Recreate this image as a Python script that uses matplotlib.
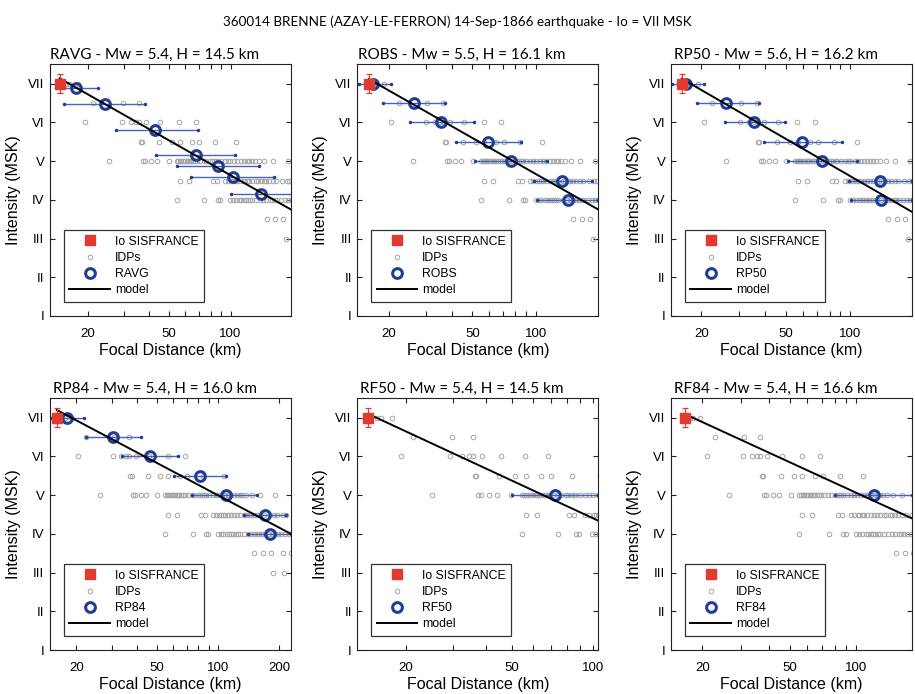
import numpy as np
import matplotlib
matplotlib.use("Agg")
import matplotlib.pyplot as plt
from matplotlib.ticker import FixedLocator, FixedFormatter, NullFormatter

plt.rcParams["font.family"] = ["Liberation Sans", "DejaVu Sans"]

suptitle = "360014 BRENNE (AZAY-LE-FERRON) 14-Sep-1866 earthquake - Io = VII MSK"

# one panel per method
methods = ["RAVG", "ROBS", "RP50", "RP84", "RF50", "RF84"]
mw = [5.4, 5.5, 5.6, 5.4, 5.4, 5.4]
depth = [14.5, 16.1, 16.2, 16.0, 14.5, 16.6]
xmin = [13.0, 14.2, 14.4, 14.8, 13.2, 14.4]
xmax = [198, 198, 195, 229, 105, 179]

# model line: intensity at the hypocentre distance and at the right edge
model_i_start = [7.14, 7.12, 7.13, 7.20, 7.10, 7.10]
model_i_end = [3.75, 3.75, 3.69, 4.00, 4.34, 4.40]

# Io SISFRANCE
io_value = 7.0
io_err = 0.25

# IDPs: epicentral distance (km) for each intensity class
idp_levels = [7.0, 6.5, 6.0, 5.5, 5.0, 4.5, 4.0, 3.5, 3.0]
idp_repi = [
    [5.8, 7.2, 10.3],
    [15.5, 26.0, 32.6],
    [12.7, 25.6, 29.2, 31.3, 32.5, 35.8, 42.9, 54.1, 66.5],
    [33.3, 33.8, 42.3, 49.4, 54.3, 62.7, 68.5, 82.3, 106],
    [20.6, 34.4, 35.4, 38.2, 41.3, 47.5, 52.6, 53.6, 54.6, 55.6, 56.7, 57.8,
     59.3, 60.3, 61.3, 62.3, 63.9, 65.4, 67, 69.3, 72.9, 74.6, 78.2, 79.7,
     81.7, 83.8, 85.5, 88.8, 92.9, 95.9, 98.9, 103.5, 107, 111, 115, 119,
     123, 127, 131, 137, 146, 161, 191],
    [54.4, 60.5, 80.5, 84.3, 92.9, 95.9, 100, 102, 105, 107, 111, 115, 119,
     123, 127, 133, 136, 141, 145, 149, 154, 161, 167, 179, 189, 194, 208, 215],
    [52.6, 73.1, 85.8, 87.8, 98.4, 102, 105, 109, 112, 115, 118, 121, 124,
     127, 133, 139, 144, 149, 155, 159, 164, 169, 177, 184, 191, 197, 205,
     214, 223],
    [150, 165, 181, 209, 228],
    [186, 210],
]

# binned intensities of each method (focal distance, intensity, range)
bin_dist = [
    [17.5, 24.1, 42.6, 67.6, 86.9, 103, 141],
    [16.9, 26.3, 35.6, 59.4, 76, 133, 141.6],
    [17.0, 26.2, 35.3, 59.3, 73.5, 138, 139.7],
    [18.0, 30.4, 46.1, 81, 108.9, 169.8, 180],
    [72.5],
    [120],
]
bin_int = [
    [6.88, 6.47, 5.81, 5.17, 4.88, 4.60, 4.15],
    [7, 6.5, 6, 5.5, 5, 4.5, 4],
    [7, 6.5, 6, 5.5, 5, 4.5, 4],
    [7, 6.5, 6, 5.5, 5, 4.5, 4],
    [5],
    [5],
]
bin_lo = [
    [13.9, 15.2, 27.3, 42.9, 54.7, 64.3, 100],
    [14.4, 18.9, 25.2, 42, 51.4, 97.5, 101],
    [14.5, 19, 25.8, 39.2, 51, 98.6, 100.4],
    [14.9, 22.2, 33.5, 60.8, 74.5, 135, 140.6],
    [50],
    [79.8],
]
bin_hi = [
    [22.4, 37.9, 68.9, 105.4, 138.3, 163.4, 200],
    [20.6, 37.2, 50.8, 84.7, 112.5, 184, 198],
    [20.6, 37.2, 49.6, 91.4, 107.5, 195, 195],
    [21.8, 41.7, 63.2, 108.9, 155.6, 217, 229],
    [105],
    [179],
]

roman = ["I", "II", "III", "IV", "V", "VI", "VII"]

red = "#e23a2e"
blue = "#1f3d98"
blue_bar = "#4465bb"
grey = "#a4a4a4"

fig = plt.figure(figsize=(9.15, 6.94), dpi=100)
fig.suptitle(suptitle, y=0.978, fontsize=9.7, family="Lato")

lefts = [0.0546, 0.3905, 0.7333]
bottoms = [0.5447, 0.0634]
w, h = 0.2634, 0.3625

for k, name in enumerate(methods):
    ax = fig.add_axes([lefts[k % 3], bottoms[k // 3], w, h])
    H = depth[k]

    # IDPs
    idp_x = np.concatenate([np.hypot(np.array(r), H) for r in idp_repi])
    idp_y = np.concatenate([[lv] * len(r) for lv, r in zip(idp_levels, idp_repi)])
    h_idp, = ax.plot(idp_x, idp_y, "o", ms=3.3, mfc="none", mec=grey, mew=0.7,
                     ls="none", label="IDPs")

    # binned values of the method
    bd = np.array(bin_dist[k])
    bi = np.array(bin_int[k])
    lo = np.array(bin_lo[k])
    hi = np.array(bin_hi[k])
    ax.errorbar(bd, bi, xerr=[bd - lo, hi - bd], fmt="none", ecolor=blue_bar,
                elinewidth=1.0, capsize=0)
    ax.plot(lo, bi, ".", color=blue, ms=3)
    ax.plot(hi, bi, ".", color=blue, ms=3)
    h_bin, = ax.plot(bd, bi, "o", ms=7, mfc="none", mec=blue, mew=2.2,
                     ls="none", label=name)

    # model
    h_mod, = ax.plot([H, xmax[k]], [model_i_start[k], model_i_end[k]],
                     color="black", lw=1.4, label="model")

    # Io
    ax.errorbar([H], [io_value], yerr=io_err, fmt="none", ecolor=red,
                elinewidth=0.9, capsize=2.5, capthick=0.9)
    h_io, = ax.plot([H], [io_value], "s", color=red, ms=7.5, ls="none",
                    label="Io SISFRANCE")

    ax.set_xscale("log")
    ax.set_xlim(xmin[k], xmax[k])
    ax.set_ylim(1, 7.5)
    ax.xaxis.set_major_locator(FixedLocator([20, 50, 100, 200]))
    ax.xaxis.set_major_formatter(FixedFormatter(["20", "50", "100", "200"]))
    ax.xaxis.set_minor_locator(FixedLocator([10, 30, 40, 60, 70, 80, 90, 300]))
    ax.xaxis.set_minor_formatter(NullFormatter())
    ax.set_yticks(range(1, 8))
    ax.set_yticklabels(roman)
    ax.tick_params(which="both", direction="in", top=True, right=True,
                   length=3.5, width=0.8, labelsize=9.5, color="#222222")
    ax.tick_params(axis="y", pad=4)
    ax.tick_params(axis="x", pad=8.5)
    for s in ax.spines.values():
        s.set_linewidth(0.8)
        s.set_color("#222222")

    ax.set_xlabel("Focal Distance (km)", fontsize=11.5, labelpad=2)
    ax.set_ylabel("Intensity (MSK)", fontsize=11.5, labelpad=5)
    ax.set_title(f"{name} - Mw = {mw[k]}, H = {H:.1f} km", family="Lato",
                 fontsize=11, x=0.435, pad=4)

    leg = ax.legend([h_io, h_idp, h_bin, h_mod],
                    ["Io SISFRANCE", "IDPs", name, "model"],
                    loc="lower left", bbox_to_anchor=(0.058, 0.056),
                    borderaxespad=0, fontsize=8.8, fancybox=False,
                    framealpha=1, edgecolor="#333333", handlelength=3.3,
                    handletextpad=0.4, labelspacing=0.35, borderpad=0.45)
    leg.get_frame().set_linewidth(0.9)

fig.savefig("out.png", dpi=100)
